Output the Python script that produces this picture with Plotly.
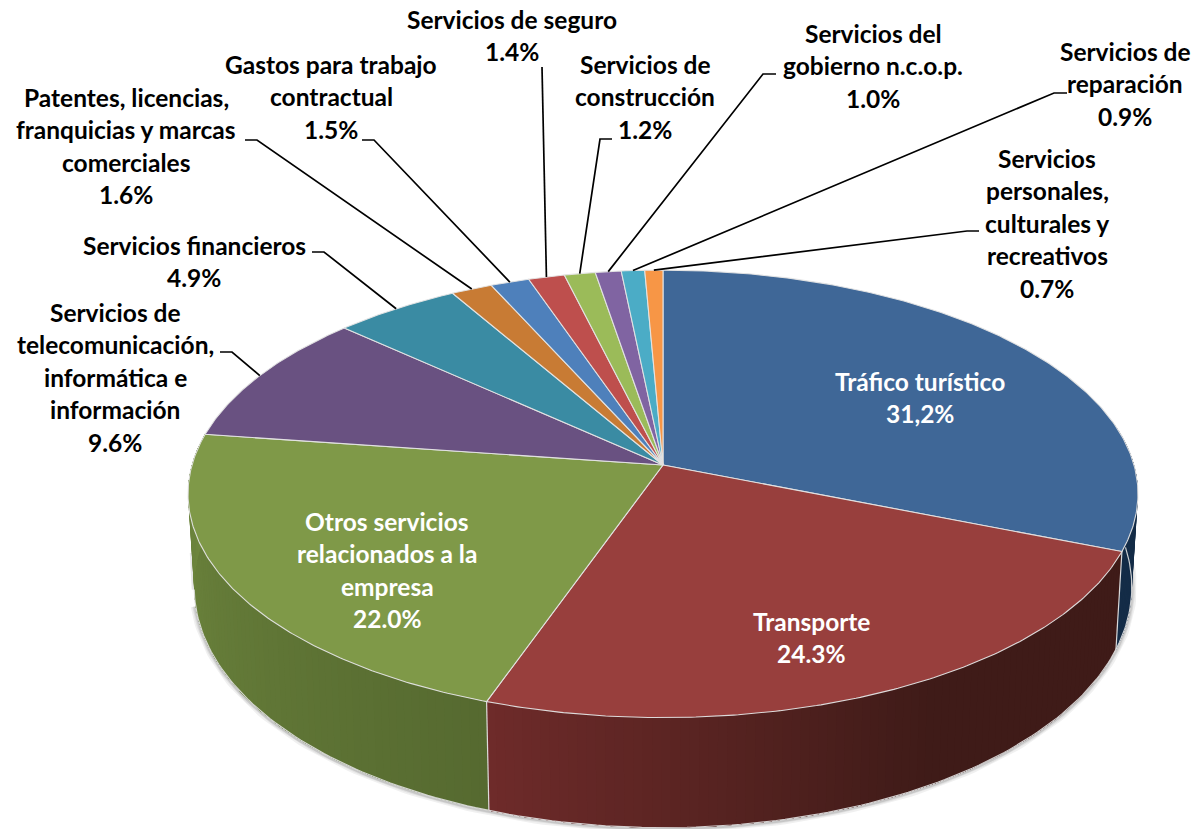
import numpy as np
import plotly.graph_objects as go

# ─── DATA ────────────────────────────────────────────────────────────────────
categories = [
    ["Tráfico turístico"],
    ["Transporte"],
    ["Otros servicios", "relacionados a la", "empresa"],
    ["Servicios de", "telecomunicación,", "informática e", "información"],
    ["Servicios financieros"],
    ["Patentes, licencias,", "franquicias y marcas", "comerciales"],
    ["Gastos para trabajo", "contractual"],
    ["Servicios de seguro"],
    ["Servicios de", "construcción"],
    ["Servicios del", "gobierno n.c.o.p."],
    ["Servicios de", "reparación"],
    ["Servicios", "personales,", "culturales y", "recreativos"],
]
values = [31.2, 24.3, 22.0, 9.6, 4.9, 1.6, 1.5, 1.4, 1.2, 1.0, 0.9, 0.7]
percent_labels = ["31,2%", "24.3%", "22.0%", "9.6%", "4.9%", "1.6%",
                  "1.5%", "1.4%", "1.2%", "1.0%", "0.9%", "0.7%"]

# ─── STYLE / LAYOUT ──────────────────────────────────────────────────────────
TOP_COLORS = ["#3f6797", "#983f3d", "#7f9948", "#695181", "#3a8ba3", "#c87b34",
              "#4e80bb", "#be4f4d", "#9bbb59", "#8064a2", "#4bacc6", "#f79646"]
# side wall: (fraction along the slice, colour)
SIDE_STOPS = {
    0: [(0, "#142c47"), (1, "#142c47")],
    1: [(0, "#3f1b18"), (0.43, "#3f1b18"), (1, "#6f2b2a")],
    2: [(0, "#566a30"), (1, "#70893f")],
}
EDGE = "rgba(228,228,228,0.95)"
FONT = "Lato"
FONT_SIZE = 24.5
LINE_H = 32.5

# centre x, y of first line
LABEL_XY = [(920, 381), (811, 621), (387, 521), (115, 312), (194, 245), (126, 97),
            (331, 64), (512, 19), (645, 64), (873, 33), (1125, 51), (1047, 158)]
# where each leader line leaves its label: (x0, x1, y)
ELBOWS = {3: (220, 232, 352), 4: (312, 324, 252), 5: (245, 257, 140), 6: (362, 374, 140),
          7: (542, 542, 67), 8: (612, 600, 139), 9: (776, 763, 74), 10: (1067, 1054, 93),
          11: (979, 967, 231)}

# perspective disc: apex, half axes, foreshortening
CX, CY, A, B, P = 663, 465, 471, 220, 0.129


def top_rim(t):
    u, v = np.sin(t), np.cos(t)
    w = 1 + P * v
    return CX + A * u / w, CY - B * v / w


def low_rim(t):
    x, y = top_rim(t)
    return CX + 0.987 * (x - CX), y + 90.7 - 19.3 * np.cos(t)


def _rgb(h):
    h = h.lstrip("#")
    return [int(h[i:i + 2], 16) for i in (0, 2, 4)]


def side_color(stops, f):
    fs = [s[0] for s in stops]
    cols = np.array([_rgb(s[1]) for s in stops])
    r, g, b = [np.interp(f, fs, cols[:, k]) for k in range(3)]
    return f"rgb({r:.0f},{g:.0f},{b:.0f})"


edges = np.concatenate([[0], np.cumsum(values)]) / sum(values) * 2 * np.pi

fig = go.Figure()


def poly(x, y, fill, line=None, width=0.0):
    fig.add_trace(go.Scatter(x=x, y=y, mode="lines", fill="toself", fillcolor=fill,
                             line=dict(color=line or fill, width=width),
                             hoverinfo="skip", showlegend=False))


def path(x, y, color, width):
    fig.add_trace(go.Scatter(x=x, y=y, mode="lines", line=dict(color=color, width=width),
                             hoverinfo="skip", showlegend=False))


# Soft shadow under the front wall
front = np.linspace(np.radians(88), np.radians(262), 180)
lx, ly = low_rim(front)
for w, dy in [(10, 0), (7, 0), (5, 0), (3, 1)]:
    path(lx[:-4], ly[:-4] + dy, "rgba(0,0,0,0.06)", w)

# Left end of the wall runs straight up into the rim
xa, ya = top_rim(np.radians(257))
xb, yb = low_rim(np.radians(262))
xc, yc = top_rim(np.radians(275))
path([xa + 0.5 * (xb - xa), xb], [ya + 0.5 * (yb - ya), yb], "rgba(0,0,0,0.10)", 5)

# Side wall: each strip runs to the end of its slice and the next one paints
# over it, so neighbouring strips leave no seams
for i, stops in SIDE_STOPS.items():
    t0, t1 = max(edges[i], np.radians(78)), min(edges[i + 1], np.radians(300))
    n = max(int(np.degrees(t1 - t0)), 2)
    for a in np.linspace(t0, t1, n + 1)[:-1]:
        seg = np.linspace(a, t1, max(int(np.degrees(t1 - a)), 2))
        xt, yt = top_rim(seg)
        xl, yl = low_rim(seg[::-1])
        f = (a - edges[i]) / (edges[i + 1] - edges[i])
        poly(list(xt) + list(xl), list(yt) + list(yl), side_color(stops, f))

poly([xa, xb, xc], [ya, yb, yc], side_color(SIDE_STOPS[2], 0.8))

path(lx, ly, "rgba(225,225,225,0.9)", 1.2)

# Wall separators
for i in (1, 2):
    xt, yt = top_rim(edges[i])
    xl, yl = low_rim(edges[i])
    path([xt, xl], [yt, yl], EDGE, 1.2)

# Top face
for i in range(len(values)):
    ts = np.linspace(edges[i], edges[i + 1], max(int(np.degrees(edges[i + 1] - edges[i])) * 2, 6))
    xs, ys = top_rim(ts)
    poly([CX] + list(xs) + [CX], [CY] + list(ys) + [CY], TOP_COLORS[i], EDGE, 1.1)

# Leader lines
for i, (x0, x1, y) in ELBOWS.items():
    xe, ye = top_rim((edges[i] + edges[i + 1]) / 2)
    path([x0, x1, xe], [y, y, ye], "#000000", 1.7)

# Labels, one annotation per line to hold the line spacing
annotations = []
for i, lines in enumerate(categories):
    color = "#ffffff" if i < 3 else "#000000"
    lx0, ly0 = LABEL_XY[i]
    for k, txt in enumerate(lines + [percent_labels[i]]):
        annotations.append(dict(x=lx0, y=ly0 + k * LINE_H, text=f"<b>{txt}</b>", showarrow=False,
                                xanchor="center", yanchor="middle",
                                font=dict(family=FONT, size=FONT_SIZE, color=color)))

fig.update_layout(
    width=1195, height=829, margin=dict(l=0, r=0, t=0, b=0),
    paper_bgcolor="#ffffff", plot_bgcolor="#ffffff",
    xaxis=dict(range=[0, 1195], visible=False, fixedrange=True),
    yaxis=dict(range=[829, 0], visible=False, fixedrange=True),
    annotations=annotations, showlegend=False,
)

fig.write_html("out.html", post_script="document.body.style.margin='0';",
               config={"displayModeBar": False})
